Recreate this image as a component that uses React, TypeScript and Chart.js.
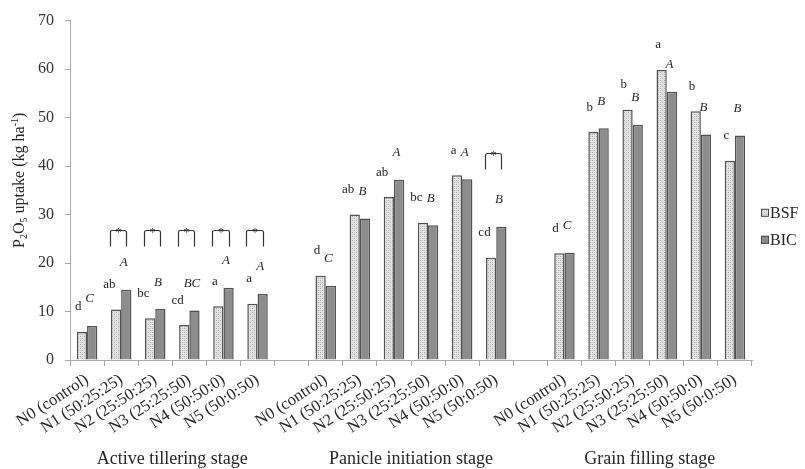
import React, { useEffect, useRef } from "react";
import { Chart, registerables } from "chart.js";

Chart.register(...registerables);

const treatments = ["N0 (control)", "N1 (50:25:25)", "N2 (25:50:25)", "N3 (25:25:50)", "N4 (50:50:0)", "N5 (50:0:50)"];
const categories = [...treatments, "", ...treatments, "", ...treatments];
const stageNames = ["Active tillering stage", "Panicle initiation stage", "Grain filling stage"];
const stageRanges = [[0, 5], [7, 12], [14, 19]];
const seriesNames = ["BSF", "BIC"];

const bsfValues = [5.8, 10.4, 8.6, 7.2, 11.1, 11.6, null, 17.4, 30.0, 33.6, 28.3, 38.1, 21.1, null, 22.0, 47.0, 51.6, 59.8, 51.3, 41.1];
const bicValues = [7.0, 14.5, 10.5, 10.2, 14.9, 13.6, null, 15.3, 29.2, 37.2, 27.8, 37.3, 27.5, null, 22.1, 47.8, 48.5, 55.3, 46.5, 46.3];

const bsfLetters = ["d", "ab", "bc", "cd", "a", "a", "", "d", "ab", "ab", "bc", "a", "cd", "", "d", "b", "b", "a", "b", "c"];
const bicLetters = ["C", "A", "B", "BC", "A", "A", "", "C", "B", "A", "B", "A", "B", "", "C", "B", "B", "A", "B", "B"];
// level (in y units) of the significance bracket, null where none
const sigLevels = [null, 26.8, 26.8, 26.8, 26.8, 26.8, null, null, null, null, null, null, 42.6, null, null, null, null, null, null, null];

const yTicks = [0, 10, 20, 30, 40, 50, 60, 70];
// y-axis title as rich text: [text, kind]
const yTitleParts: [string, string][] = [
  ["P", "n"],
  ["2", "sub"],
  ["O", "n"],
  ["5", "sub"],
  [" uptake (kg ha", "n"],
  ["-1", "sup"],
  [")", "n"],
];

const SERIF = '"Liberation Serif", "DejaVu Serif", "Times New Roman", serif';
const TEXT = "#262626";

function makePattern(): CanvasPattern | string {
  const c = document.createElement("canvas");
  c.width = 4;
  c.height = 4;
  const g = c.getContext("2d");
  if (!g) return "#d6d6d6";
  g.fillStyle = "#e4e4e4";
  g.fillRect(0, 0, 4, 4);
  g.fillStyle = "#a8a8a8";
  g.fillRect(0, 0, 1, 1);
  g.fillRect(2, 2, 1, 1);
  g.fillStyle = "#c4c4c4";
  g.fillRect(2, 0, 1, 1);
  g.fillRect(0, 2, 1, 1);
  const p = g.createPattern(c, "repeat");
  return p || "#d6d6d6";
}

const annotationPlugin = {
  id: "annotations",
  afterDatasetsDraw(chart: any) {
    const ctx = chart.ctx as CanvasRenderingContext2D;
    const m0 = chart.getDatasetMeta(0);
    const m1 = chart.getDatasetMeta(1);
    const yScale = chart.scales.y;
    ctx.save();
    ctx.fillStyle = TEXT;
    ctx.strokeStyle = "#333";
    ctx.lineWidth = 1.2;
    for (let i = 0; i < categories.length; i++) {
      if (bsfValues[i] == null || bicValues[i] == null) continue;
      const b0 = m0.data[i];
      const b1 = m1.data[i];
      ctx.font = `13px ${SERIF}`;
      ctx.textAlign = "right";
      ctx.textBaseline = "middle";
      ctx.fillText(bsfLetters[i], b0.x - 0.5, b0.y - 25);
      ctx.font = `italic 13px ${SERIF}`;
      ctx.textAlign = "center";
      ctx.fillText(bicLetters[i], b1.x - 2.5, b1.y - 27);
      const lvl = sigLevels[i];
      if (lvl != null) {
        const y = Math.round(yScale.getPixelForValue(lvl)) + 0.5;
        const xl = Math.round(b0.x - 6) + 0.5;
        const xr = Math.round(b1.x) + 0.5;
        ctx.beginPath();
        ctx.moveTo(xl, y + 16);
        ctx.lineTo(xl, y + 2);
        ctx.quadraticCurveTo(xl, y, xl + 2, y);
        ctx.lineTo(xr - 2, y);
        ctx.quadraticCurveTo(xr, y, xr, y + 2);
        ctx.lineTo(xr, y + 16);
        ctx.stroke();
        ctx.font = `12px ${SERIF}`;
        ctx.textAlign = "center";
        ctx.textBaseline = "alphabetic";
        ctx.fillText("*", (xl + xr) / 2, y + 5);
      }
    }
    ctx.restore();
  },
  afterDraw(chart: any) {
    const ctx = chart.ctx as CanvasRenderingContext2D;
    const xScale = chart.scales.x;
    const area = chart.chartArea;
    ctx.save();
    // stage titles
    ctx.fillStyle = TEXT;
    ctx.font = `18px ${SERIF}`;
    ctx.textAlign = "center";
    ctx.textBaseline = "alphabetic";
    stageNames.forEach((name, k) => {
      const [a, b] = stageRanges[k];
      const x = (xScale.getPixelForValue(a) + xScale.getPixelForValue(b)) / 2;
      ctx.fillText(name, x, chart.height - 5);
    });
    // y-axis title (rich text, rotated)
    const fontFor = (kind: string) => (kind === "n" ? `16px ${SERIF}` : `10px ${SERIF}`);
    let total = 0;
    yTitleParts.forEach(([t, kind]) => {
      ctx.font = fontFor(kind);
      total += ctx.measureText(t).width;
    });
    ctx.save();
    ctx.translate(24, (area.top + area.bottom) / 2 - 10);
    ctx.rotate(-Math.PI / 2);
    ctx.textAlign = "left";
    ctx.textBaseline = "alphabetic";
    let cx = -total / 2;
    yTitleParts.forEach(([t, kind]) => {
      ctx.font = fontFor(kind);
      const dy = kind === "sub" ? 3 : kind === "sup" ? -6 : 0;
      ctx.fillText(t, cx, dy);
      cx += ctx.measureText(t).width;
    });
    ctx.restore();
    // legend
    const midY = (area.top + area.bottom) / 2 + 36;
    seriesNames.forEach((name, k) => {
      const ds = chart.data.datasets[k];
      const cy = midY + (k - 0.5) * 27;
      const bx = area.right + 9;
      ctx.fillStyle = ds.backgroundColor;
      ctx.fillRect(bx, cy - 4, 8, 8);
      ctx.strokeStyle = "#4d4d4d";
      ctx.lineWidth = 1;
      ctx.strokeRect(bx + 0.5, cy - 3.5, 7, 7);
      ctx.fillStyle = TEXT;
      ctx.font = `16px ${SERIF}`;
      ctx.textAlign = "left";
      ctx.textBaseline = "middle";
      ctx.fillText(name, bx + 9, cy + 1);
    });
    ctx.restore();
  },
};

export default function App() {
  const ref = useRef<HTMLCanvasElement | null>(null);
  useEffect(() => {
    if (!ref.current) return;
    Chart.defaults.font.family = SERIF;
    const chart = new Chart(ref.current, {
      type: "bar",
      data: {
        labels: categories,
        datasets: [
          {
            label: seriesNames[0],
            data: bsfValues as any,
            backgroundColor: makePattern() as any,
            borderColor: "#505050",
            borderWidth: 1.5,
            categoryPercentage: 0.6,
            barPercentage: 1.0,
          },
          {
            label: seriesNames[1],
            data: bicValues as any,
            backgroundColor: "#8c8c8c",
            borderColor: "#505050",
            borderWidth: 1.5,
            categoryPercentage: 0.6,
            barPercentage: 1.0,
          },
        ],
      },
      options: {
        animation: false,
        responsive: false,
        maintainAspectRatio: false,
        layout: { padding: { top: 20, right: 53, bottom: 0, left: 0 } },
        plugins: {
          legend: { display: false },
          tooltip: { enabled: false },
        },
        scales: {
          x: {
            afterFit: (s: any) => {
              s.height = 109;
            },
            grid: {
              display: true,
              drawOnChartArea: false,
              drawTicks: true,
              tickLength: 6,
              color: "#a8a8a8",
              offset: true,
            },
            border: { display: true, color: "#a8a8a8", width: 1 },
            ticks: {
              autoSkip: false,
              maxRotation: 33,
              minRotation: 33,
              padding: 4,
              color: TEXT,
              font: { size: 16.5, family: SERIF },
            },
          },
          y: {
            min: 0,
            max: 70,
            afterFit: (s: any) => {
              s.width = 70;
            },
            afterBuildTicks: (s: any) => {
              s.ticks = yTicks.map((v) => ({ value: v }));
            },
            grid: {
              display: true,
              drawOnChartArea: false,
              drawTicks: true,
              tickLength: 5,
              color: "#a8a8a8",
            },
            border: { display: true, color: "#a8a8a8", width: 1 },
            ticks: {
              padding: 11,
              color: "#333",
              font: { size: 16, family: SERIF },
            },
            title: { display: false },
          },
        },
      },
      plugins: [annotationPlugin],
    });
    return () => chart.destroy();
  }, []);
  return (
    <div style={{ position: "fixed", left: 0, top: 0, width: 805, height: 469, background: "#fff" }}>
      <canvas ref={ref} width={805} height={469} style={{ display: "block" }} />
    </div>
  );
}
